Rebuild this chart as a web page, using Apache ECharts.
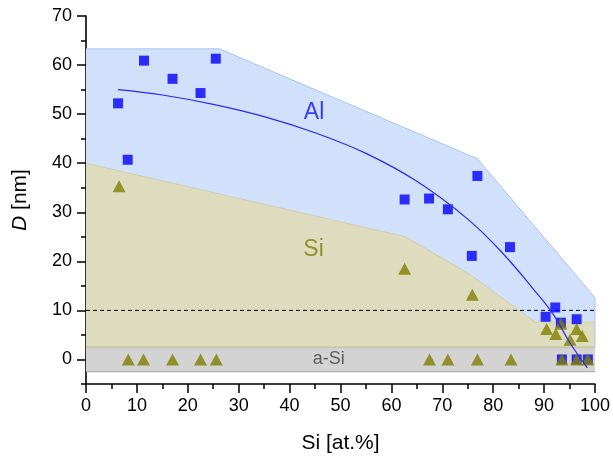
<!DOCTYPE html>
<html>
<head>
<meta charset="utf-8">
<script src="https://cdn.jsdelivr.net/npm/echarts@6/dist/echarts.min.js"></script>
<style>
  html, body { margin: 0; padding: 0; background: #fff; }
  #chart { width: 613px; height: 459px; }
</style>
</head>
<body>
<div id="chart"></div>
<script>
// Crystallite size D of the Al and Si phases versus Si content

// Al crystallites (blue squares)
const alX = [6.3, 8.2, 11.4, 17.0, 22.5, 25.5, 62.6, 67.4, 71.1, 75.8, 76.9, 83.3, 90.3, 92.2, 93.3, 96.4, 93.5, 96.4, 98.6];
const alY = [52.2, 40.7, 60.9, 57.2, 54.3, 61.3, 32.6, 32.8, 30.6, 21.1, 37.4, 22.9, 8.7, 10.6, 7.5, 8.2, 0, 0, 0];

// Si crystallites (olive triangles)
const siX = [6.5, 8.3, 11.3, 17.0, 22.5, 25.6, 62.6, 67.5, 71.1, 75.9, 76.9, 83.5, 90.5, 92.3, 93.3, 95.1, 96.4, 97.5, 93.5, 96.4, 98.6];
const siY = [35.3, 0, 0, 0, 0, 0, 18.5, 0, 0, 13.2, 0, 0, 6.2, 5.2, 7.3, 4.0, 6.2, 4.8, 0, 0, 0];

// Trend curve through the Al sizes
const fitX = [6.3, 15, 25, 35, 45, 55, 65, 75, 82, 88, 92, 95, 98.5];
const fitY = [55.0, 53.9, 52.0, 49.5, 46.2, 42.0, 36.3, 28.6, 21.5, 14.2, 8.9, 3.5, -1.7];

// Shaded regions (outline vertices)
const alRegionX = [0, 26.2, 76.9, 100, 100, 0];
const alRegionY = [63.3, 63.3, 40.9, 12.6, 2.5, 2.5];
const siRegionX = [0, 62.8, 75.5, 88.3, 100, 100, 0];
const siRegionY = [40.0, 25.0, 17.3, 7.6, 7.6, 2.5, 2.5];
const aSiRegionX = [0, 100, 100, 0];
const aSiRegionY = [2.5, 2.5, -2.5, -2.5];

// Region labels
const regionNames = ['Al', 'Si', 'a-Si'];
const regionLabelX = [44.8, 44.7, 47.7];
const regionLabelY = [50.3, 22.3, 0.1];

// 10 nm reference level
const refLevel = 10;

// Axis ticks
const yMajorTicks = [0, 10, 20, 30, 40, 50, 60, 70];
const yMinorTicks = [-5, 5, 15, 25, 35, 45, 55, 65];

const FONT = '"Liberation Sans", Arial, sans-serif';
const pairs = (xs, ys) => xs.map((x, i) => [x, ys[i]]);

function region(xs, ys, fill, z) {
  return {
    type: 'custom',
    coordinateSystem: 'cartesian2d',
    silent: true,
    z: z,
    data: [[xs[0], ys[0]]],
    renderItem: function (params, api) {
      const pts = xs.map((x, i) => api.coord([x, ys[i]]));
      return { type: 'polygon', shape: { points: pts }, style: { fill: fill } };
    }
  };
}

function edge(xs, ys, color, z, extra) {
  return Object.assign({
    type: 'line',
    data: pairs(xs, ys),
    symbol: 'none',
    silent: true,
    z: z,
    lineStyle: { color: color, width: 1 },
    animation: false
  }, extra || {});
}

const labelStyles = [
  { color: '#0f0fff', fontSize: 23, fontFamily: FONT },
  { color: '#808000', fontSize: 23, fontFamily: FONT },
  { color: '#404040', fontSize: 18, fontFamily: FONT }
];

const chart = echarts.init(document.getElementById('chart'), null, { renderer: 'canvas' });

const option = {
  animation: false,
  backgroundColor: '#ffffff',
  grid: { left: 86, right: 16, top: 16, bottom: 72, containLabel: false },
  xAxis: {
    type: 'value',
    min: 0, max: 100, interval: 10,
    name: 'Si [at.%]',
    nameLocation: 'middle',
    nameGap: 49,
    nameTextStyle: { fontSize: 21, color: '#000', fontFamily: FONT },
    axisLine: { show: true, onZero: false, lineStyle: { color: '#000', width: 1.6 } },
    axisTick: { show: true, length: 9, lineStyle: { color: '#000', width: 1.5 } },
    minorTick: { show: true, splitNumber: 2, length: 5, lineStyle: { color: '#000', width: 1.5 } },
    axisLabel: { fontSize: 18, color: '#000', margin: 13, fontFamily: FONT },
    splitLine: { show: false },
    minorSplitLine: { show: false }
  },
  yAxis: [
    {
      type: 'value',
      min: -5, max: 70, interval: 5,
      position: 'left',
      name: '{i|D} [nm]',
      nameLocation: 'middle',
      nameGap: 55,
      nameRotate: 90,
      nameTextStyle: {
        fontSize: 21, color: '#000', fontFamily: FONT,
        rich: { i: { fontStyle: 'italic', fontSize: 21, fontFamily: FONT, color: '#000' } }
      },
      axisLine: { show: true, onZero: false, lineStyle: { color: '#000', width: 1.6 } },
      axisTick: { show: true, customValues: yMajorTicks, length: 9, lineStyle: { color: '#000', width: 1.5 } },
      axisLabel: { customValues: yMajorTicks, fontSize: 18, color: '#000', margin: 14, fontFamily: FONT },
      splitLine: { show: false }
    },
    {
      type: 'value',
      min: -5, max: 70, interval: 5,
      position: 'left',
      offset: 0,
      axisLine: { show: false },
      axisTick: { show: true, customValues: yMinorTicks, length: 5, lineStyle: { color: '#000', width: 1.5 } },
      axisLabel: { show: false },
      splitLine: { show: false }
    }
  ],
  series: [
    region(alRegionX, alRegionY, '#d2e1fb', 1),
    region(siRegionX, siRegionY, '#dedcbf', 2),
    region(aSiRegionX, aSiRegionY, '#d3d3d3', 3),
    // region outlines
    edge(alRegionX.slice(0, 5), alRegionY.slice(0, 5), '#a6c4f5', 4),
    edge(siRegionX.slice(0, 5), siRegionY.slice(0, 5), '#d2cfa9', 4),
    edge(aSiRegionX.slice(0, 2), aSiRegionY.slice(0, 2), '#cbc8a6', 4, { lineStyle: { color: '#cbc8a6', width: 2 } }),
    edge(aSiRegionX.slice(2, 4), aSiRegionY.slice(2, 4), '#a3a3a3', 4, { lineStyle: { color: '#a3a3a3', width: 1.2 } }),
    // dashed 10 nm line
    edge([0, 100], [refLevel, refLevel], '#000', 5, { lineStyle: { color: '#000', width: 1, type: [4, 3] } }),
    {
      name: 'Al',
      type: 'scatter',
      data: pairs(alX, alY),
      symbol: 'rect',
      symbolSize: 10,
      itemStyle: { color: '#0000ff' },
      z: 6
    },
    {
      name: 'Si',
      type: 'scatter',
      data: pairs(siX, siY),
      symbol: 'triangle',
      symbolSize: [13, 12],
      itemStyle: { color: '#808000' },
      z: 7
    },
    edge(fitX, fitY, '#2626ee', 8, { smooth: 0.4, lineStyle: { color: '#2a2af0', width: 1.2 } }),
    {
      type: 'scatter',
      silent: true,
      z: 9,
      symbolSize: 0,
      data: regionNames.map((n, i) => ({
        name: n,
        value: [regionLabelX[i], regionLabelY[i]],
        label: labelStyles[i]
      })),
      label: {
        show: true,
        position: 'inside',
        fontFamily: FONT,
        formatter: function (p) { return p.name; }
      },
      itemStyle: { color: 'transparent' }
    }
  ]
};

chart.setOption(option);
</script>
</body>
</html>
